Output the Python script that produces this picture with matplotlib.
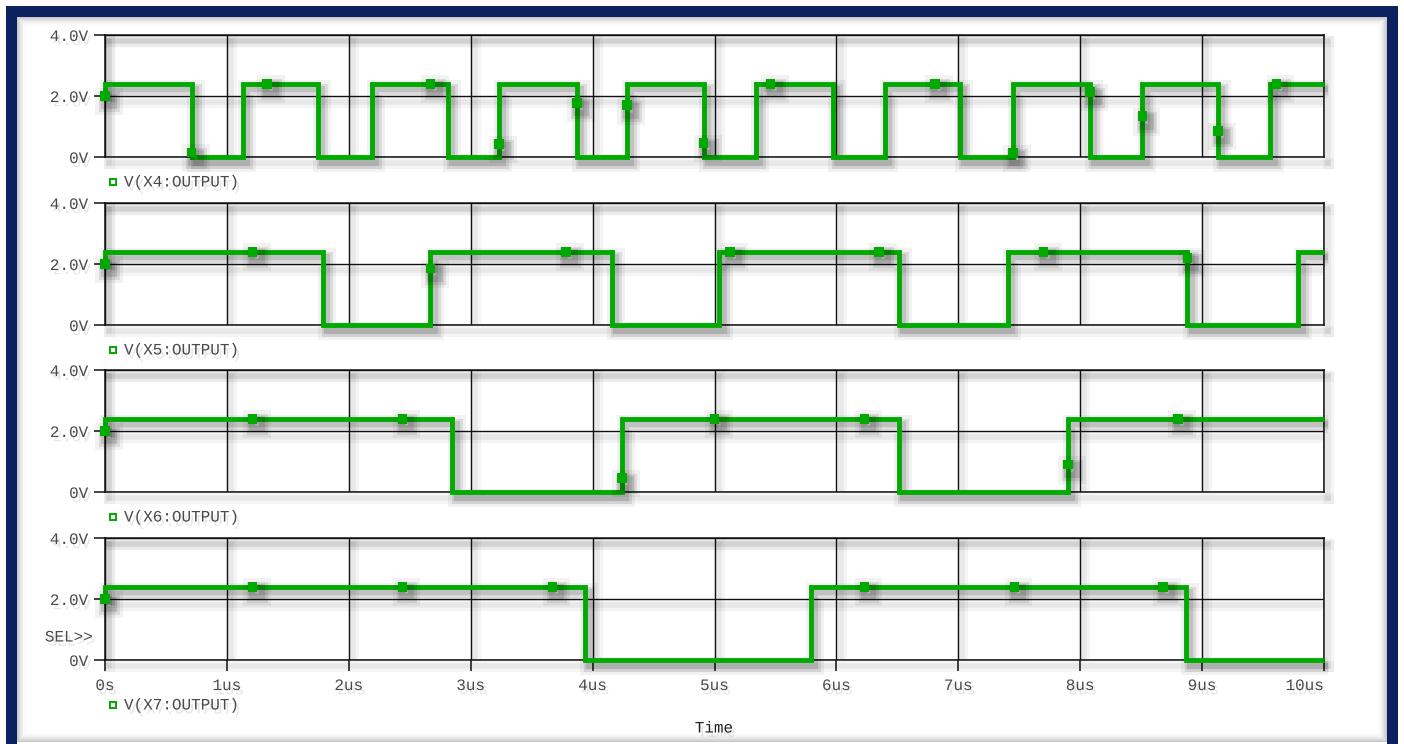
import matplotlib
matplotlib.use("Agg")
import matplotlib.pyplot as plt
import matplotlib.patheffects as pe
from matplotlib.patches import Rectangle

W, H = 1404, 744

# ---- waveform data (time in us, voltage in V) ----
t_end = 10.0
v_start = 2.0
v_high = 2.4

names = ["V(X4:OUTPUT)", "V(X5:OUTPUT)", "V(X6:OUTPUT)", "V(X7:OUTPUT)"]

edges_x4 = [0.71, 1.13, 1.75, 2.19, 2.81, 3.23, 3.87, 4.28, 4.91, 5.34,
            5.97, 6.40, 7.01, 7.45, 8.08, 8.51, 9.13, 9.56]
edges_x5 = [1.79, 2.67, 4.16, 5.04, 6.51, 7.41, 8.88, 9.79]
edges_x6 = [2.85, 4.24, 6.51, 7.90]
edges_x7 = [3.94, 5.79, 8.87]

mark_t_x4 = [0.0, 0.71, 1.33, 2.67, 3.23, 3.87, 4.28, 4.91, 5.46, 6.81,
             7.45, 8.08, 8.51, 9.13, 9.61]
mark_v_x4 = [2.0, 0.15, 2.4, 2.4, 0.43, 1.77, 1.70, 0.46, 2.4, 2.4,
             0.13, 2.13, 1.34, 0.85, 2.4]
mark_t_x5 = [0.0, 1.21, 2.67, 3.78, 5.13, 6.35, 7.70, 8.88]
mark_v_x5 = [2.0, 2.4, 1.85, 2.4, 2.4, 2.4, 2.4, 2.2]
mark_t_x6 = [0.0, 1.21, 2.44, 4.24, 5.00, 6.23, 7.90, 8.80]
mark_v_x6 = [2.0, 2.4, 2.4, 0.46, 2.4, 2.4, 0.9, 2.4]
mark_t_x7 = [0.0, 1.21, 2.44, 3.67, 6.23, 7.46, 8.68]
mark_v_x7 = [2.0, 2.4, 2.4, 2.4, 2.4, 2.4, 2.4]

y_ticks = [0, 2, 4]
y_labels = ["0V", "2.0V", "4.0V"]
x_ticks = list(range(0, 11))
x_labels = ["0s"] + [f"{k}us" for k in range(1, 11)]

edges_all = [edges_x4, edges_x5, edges_x6, edges_x7]
marks_all = [(mark_t_x4, mark_v_x4), (mark_t_x5, mark_v_x5),
             (mark_t_x6, mark_v_x6), (mark_t_x7, mark_v_x7)]


def step_trace(edges):
    t = [0.0, 0.0]
    v = [v_start, v_high]
    level = v_high
    for e in edges:
        nxt = 0.0 if level > 0 else v_high
        t += [e, e]
        v += [level, nxt]
        level = nxt
    t.append(t_end)
    v.append(level)
    return t, v


GREEN = "#00aa00"
NAVY = "#0b2160"
TXT = "#4a4a4a"
MONO = ["Liberation Mono", "DejaVu Sans Mono"]
FS = 11.5

soft = [pe.SimpleLineShadow(offset=(3, -4), shadow_color="k", alpha=0.05, linewidth=13),
        pe.SimpleLineShadow(offset=(3, -4), shadow_color="k", alpha=0.09, linewidth=8),
        pe.SimpleLineShadow(offset=(3, -4), shadow_color="k", alpha=0.12, linewidth=4.5),
        pe.Normal()]
soft_thin = [pe.SimpleLineShadow(offset=(3, -4), shadow_color="k", alpha=0.04, linewidth=8),
             pe.SimpleLineShadow(offset=(3, -4), shadow_color="k", alpha=0.05, linewidth=4),
             pe.Normal()]
txt_fx = [pe.withSimplePatchShadow(offset=(2, -3), shadow_rgbFace="k", alpha=0.10)]

fig = plt.figure(figsize=(W / 100, H / 100), dpi=100)
fig.patch.set_facecolor("white")


def fx(x):
    return x / W


def fy(y):
    return 1 - y / H


# panel extents in pixels (top, bottom)
panels = [(35, 157), (203, 325), (370, 492), (538, 660)]
left_px, right_px = 105, 1324

for i, (top, bot) in enumerate(panels):
    ax = fig.add_axes([fx(left_px), fy(bot), fx(right_px - left_px), (bot - top) / H])
    ax.set_xlim(0, t_end)
    ax.set_ylim(0, 4)
    ax.set_facecolor("none")
    for sp in ax.spines.values():
        sp.set_color("#111111")
        sp.set_linewidth(1.1)
        sp.set_path_effects(soft_thin)
    ax.set_yticks(y_ticks)
    ax.set_yticklabels(y_labels, fontfamily=MONO, fontsize=FS, color=TXT)
    ax.set_xticks(x_ticks)
    ax.grid(True, color="#111111", linewidth=1.0)
    for gl in ax.get_xgridlines() + ax.get_ygridlines():
        gl.set_path_effects(soft_thin)
    ax.tick_params(axis="y", length=8, width=1.1, color="#111111", pad=4, direction="out")
    if i < 3:
        ax.tick_params(axis="x", length=0, labelbottom=False)
    else:
        ax.set_xticklabels(x_labels, fontfamily=MONO, fontsize=FS, color=TXT)
        ax.tick_params(axis="x", length=8, width=1.1, color="#111111", pad=5, direction="out")
        ax.get_xticklabels()[-1].set_horizontalalignment("right")
    for lab in ax.get_yticklabels() + ax.get_xticklabels():
        lab.set_path_effects(txt_fx)

    t, v = step_trace(edges_all[i])
    ax.plot(t, v, color=GREEN, linewidth=3.5, solid_joinstyle="miter",
            solid_capstyle="butt", clip_on=False, zorder=5, path_effects=soft)
    mt, mv = marks_all[i]
    ax.plot(mt, mv, linestyle="none", marker="s", markersize=7, color=GREEN,
            markeredgewidth=0, clip_on=False, zorder=6, path_effects=soft)

    # trace legend below each panel
    leg_y = bot + (45 if i == 3 else 25)
    ax.plot([fx(113)], [fy(leg_y)], transform=fig.transFigure, marker="s",
            markersize=5, markerfacecolor="white", markeredgecolor=GREEN,
            markeredgewidth=1.4, linestyle="none", clip_on=False)
    fig.text(fx(124), fy(leg_y), names[i], fontfamily=MONO, fontsize=FS,
             color=TXT, ha="left", va="center", path_effects=txt_fx)

    if i == 3:
        fig.text(fx(93), fy(637), "SEL>>", fontfamily=MONO, fontsize=FS,
                 color=TXT, ha="right", va="center", path_effects=txt_fx)

fig.text(fx(714), fy(728), "Time", fontfamily=MONO, fontsize=FS, color="#222222",
         ha="center", va="center", path_effects=txt_fx)

# picture frame with a soft inner shade
inner_l, inner_t, inner_r, inner_b = 16, 16, 1386, 741
for k in range(10):
    x0, y0 = inner_l + k + 0.5, inner_t + k + 0.5
    x1, y1 = inner_r - k - 0.5, inner_b - k - 0.5
    fig.patches.append(Rectangle((fx(x0), fy(y1)), fx(x1 - x0), (y1 - y0) / H,
                                 transform=fig.transFigure, fill=False,
                                 edgecolor="k", linewidth=0.72,
                                 alpha=0.22 * (1 - k / 10) ** 2, zorder=0))
fig.patches.append(Rectangle((fx(10.5), fy(746.5)), fx(1392 - 10.5), (746.5 - 10.5) / H,
                             transform=fig.transFigure, fill=False, edgecolor=NAVY,
                             linewidth=11 * 0.72, zorder=10))

fig.savefig("out.png", dpi=100, facecolor="white")
